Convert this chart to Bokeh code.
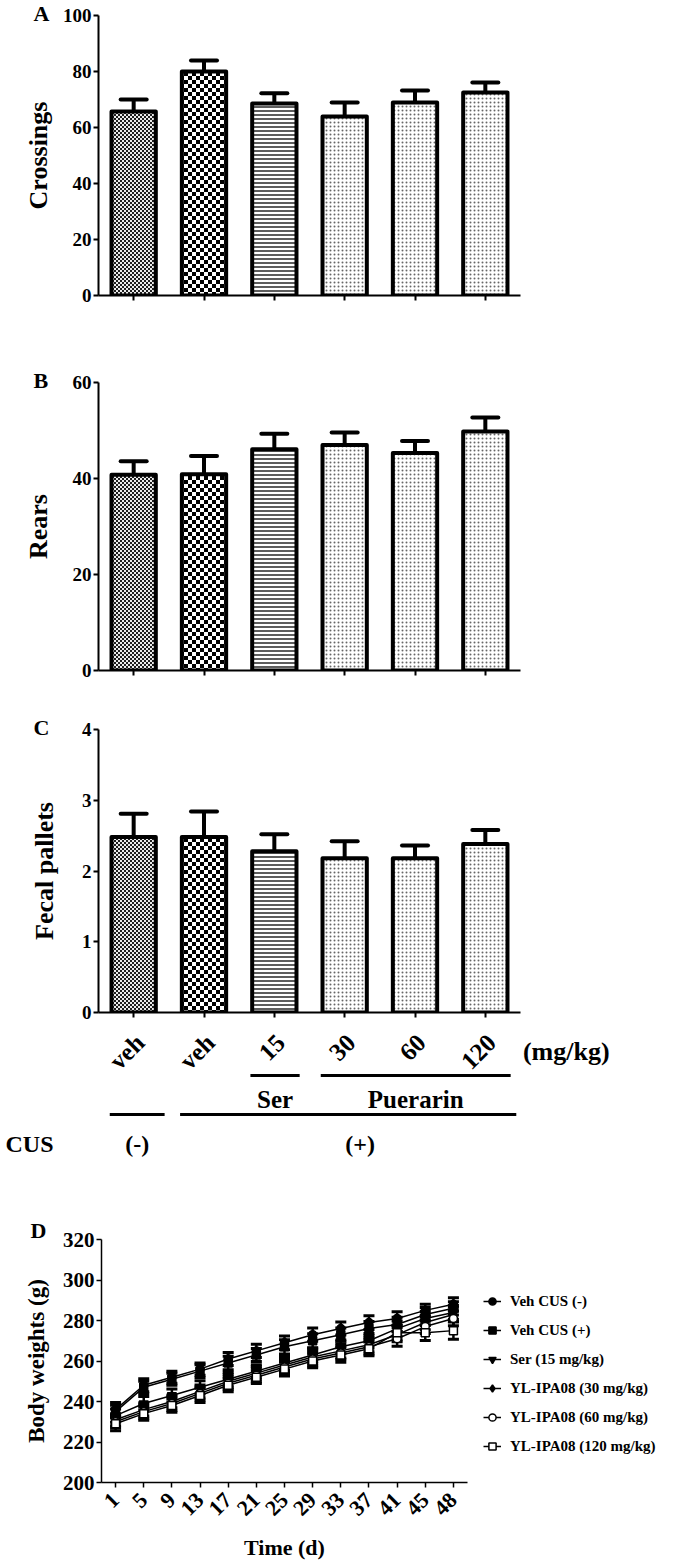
import math
import zlib
import struct
import base64
from bokeh.plotting import figure
from bokeh.models import (FactorRange, Range1d, ColumnDataSource, Whisker, TeeHead,
                          FixedTicker, Legend, LegendItem, ImageURLTexture)
from bokeh.layouts import column, row
from bokeh.core.properties import value
from bokeh.embed import file_html
from bokeh.resources import INLINE

FONT = "Liberation Serif"

# ---------------- data: bar panels ----------------
groups = ["veh (-)", "veh (+)", "Ser 15", "Puerarin 30", "Puerarin 60", "Puerarin 120"]
dose_labels = ["veh", "veh", "15", "30", "60", "120"]
crossings = [65.7, 80.0, 68.6, 63.9, 68.9, 72.5]
crossings_sem = [4.3, 3.9, 3.6, 5.0, 4.3, 3.6]
rears = [40.8, 40.9, 46.1, 47.0, 45.3, 49.8]
rears_sem = [2.8, 3.8, 3.2, 2.6, 2.5, 2.9]
fecal = [2.48, 2.48, 2.28, 2.18, 2.18, 2.38]
fecal_sem = [0.33, 0.36, 0.24, 0.24, 0.18, 0.20]

drug_groups = [("Ser", [2]), ("Puerarin", [3, 4, 5])]
cus_groups = [("(-)", [0]), ("(+)", [1, 2, 3, 4, 5])]

# ---------------- data: body weights ----------------
days = ["1", "5", "9", "13", "17", "21", "25", "29", "33", "37", "41", "45", "48"]
series_names = ["Veh CUS (-)", "Veh CUS (+)", "Ser (15 mg/kg)",
                "YL-IPA08 (30 mg/kg)", "YL-IPA08 (60 mg/kg)", "YL-IPA08 (120 mg/kg)"]
bw_veh_neg = [236, 248, 252, 256, 261, 265, 269, 273, 276, 279, 281, 285, 288]
bw_veh_pos = [235, 247, 251, 255, 259, 263, 267, 270, 273, 276, 278, 283, 286]
bw_ser15 = [233, 239, 243, 247, 251, 255, 259, 263, 267, 270, 276, 281, 284]
bw_yl30 = [231, 236, 240, 245, 250, 254, 258, 262, 265, 268, 273, 279, 283]
bw_yl60 = [230, 235, 239, 244, 249, 253, 257, 261, 264, 267, 271, 277, 281]
bw_yl120 = [229, 234, 238, 243, 248, 252, 256, 260, 263, 266, 274, 274, 275]
sem_veh_neg = [3.5, 3.2, 3.0, 3.0, 3.2, 3.3, 3.4, 3.3, 3.2, 3.4, 3.3, 3.0, 3.2]
sem_veh_pos = [3.2, 3.0, 3.0, 3.1, 3.3, 3.2, 3.5, 3.4, 3.3, 3.5, 3.6, 3.4, 3.3]
sem_ser15 = [3.3, 3.5, 3.2, 3.3, 3.4, 3.2, 3.5, 3.3, 3.4, 3.6, 3.8, 3.5, 3.4]
sem_yl30 = [3.0, 3.2, 3.1, 3.2, 3.3, 3.3, 3.2, 3.4, 3.5, 3.4, 3.5, 3.6, 3.5]
sem_yl60 = [3.1, 3.3, 3.4, 3.2, 3.1, 3.4, 3.3, 3.5, 3.3, 3.5, 3.7, 3.4, 3.6]
sem_yl120 = [3.4, 3.2, 3.3, 3.5, 3.2, 3.1, 3.4, 3.3, 3.6, 3.4, 3.5, 3.9, 4.2]


# ---------------- styles ----------------
def checker_png(cell, dark=0, light=255):
    """Data URL of a grayscale PNG tile holding a 2x2 checkerboard of `cell`-px squares."""
    n = 2 * cell
    rows = []
    for yy in range(n):
        rows.append(b"\x00" + bytes(dark if ((xx // cell) + (yy // cell)) % 2 == 0 else light
                                    for xx in range(n)))
    raw = b"".join(rows)

    def chunk(tag, data):
        return (struct.pack(">I", len(data)) + tag + data +
                struct.pack(">I", zlib.crc32(tag + data) & 0xffffffff))

    png = (b"\x89PNG\r\n\x1a\n" +
           chunk(b"IHDR", struct.pack(">IIBBBBB", n, n, 8, 0, 0, 0, 0)) +
           chunk(b"IDAT", zlib.compress(raw)) + chunk(b"IEND", b""))
    return "data:image/png;base64," + base64.b64encode(png).decode()


hatch_textures = {"fine_checker": ImageURLTexture(url=checker_png(2, dark=30, light=235)),
                  "coarse_checker": ImageURLTexture(url=checker_png(4))}
hatch_patterns = ["fine_checker", "coarse_checker", "horizontal_line", "dot", "dot", "dot"]
hatch_scales = [2, 8, 4, 4, 4, 4]
hatch_colors = ["#111111", "#000000", "#333333", "#666666", "#666666", "#666666"]
hatch_weights = [1, 1, 1.6, 1, 1, 1]
markers = ["circle", "square", "inverted_triangle", "diamond", "circle", "square"]
marker_fills = ["black", "black", "black", "black", "white", "white"]
marker_sizes = [8, 8, 9, 11, 8, 8]

W = 675
BAR_LEFT = 98
BAR_RIGHT = 155


def style_axis(ax, lw=2):
    ax.axis_line_width = lw
    ax.axis_line_color = "black"
    ax.major_tick_line_width = lw
    ax.major_tick_line_color = "black"
    ax.major_tick_in = 0
    ax.major_tick_out = 5
    ax.minor_tick_line_color = None
    ax.major_label_text_font = FONT
    ax.major_label_text_font_style = "bold"
    ax.major_label_text_color = "black"
    ax.axis_label_text_font = FONT
    ax.axis_label_text_font_style = "bold"
    ax.axis_label_text_color = "black"


def style_letter(p, offset, standoff):
    p.title.align = "left"
    p.title.offset = offset
    p.title.standoff = standoff
    p.title.text_font = FONT
    p.title.text_font_style = "bold"
    p.title.text_font_size = "22px"
    p.title.text_color = "black"


def bar_panel(vals, sems, ylabel, ymax, ticks, letter, height, top, bottom, als):
    p = figure(width=W, height=height, x_range=FactorRange(factors=groups),
               y_range=Range1d(0, ymax), output_backend="svg", toolbar_location=None,
               title=letter, frame_align=False,
               min_border_left=BAR_LEFT, min_border_right=BAR_RIGHT,
               min_border_top=top, min_border_bottom=bottom)
    style_letter(p, -65, -20)
    p.outline_line_color = None
    p.grid.visible = False
    src = ColumnDataSource(dict(x=groups, top=vals,
                                upper=[v + s for v, s in zip(vals, sems)]))
    w = Whisker(source=src, base="x", lower="top", upper="upper", dimension="height",
                line_width=4, line_color="black", lower_head=None,
                upper_head=TeeHead(size=26, line_width=4, line_color="black", line_cap="round"))
    p.add_layout(w)
    for i, g in enumerate(groups):
        pat = hatch_patterns[i]
        bsrc = ColumnDataSource(dict(x=[g], top=[vals[i]], hp=[pat]))
        extra = {pat: hatch_textures[pat]} if pat in hatch_textures else {}
        p.vbar(x="x", top="top", bottom=0, width=0.63, source=bsrc, fill_color="white",
               line_color="black", line_width=4, line_join="round",
               hatch_pattern="hp", hatch_scale=hatch_scales[i], hatch_color=hatch_colors[i],
               hatch_weight=hatch_weights[i], hatch_extra=extra)
    style_axis(p.xaxis[0])
    style_axis(p.yaxis[0])
    p.xaxis.major_label_text_color = None
    p.xaxis.major_label_text_font_size = "1px"
    p.xaxis.major_label_standoff = 0
    p.yaxis.ticker = FixedTicker(ticks=ticks)
    p.yaxis.major_label_text_font_size = "19px"
    p.yaxis.major_label_standoff = 2
    p.yaxis.axis_label = ylabel
    p.yaxis.axis_label_text_font_size = "26px"
    p.yaxis.axis_label_standoff = als
    return p


pA = bar_panel(crossings, crossings_sem, "Crossings", 100, [0, 20, 40, 60, 80, 100], "A",
               320, 15, 25, 7)
pB = bar_panel(rears, rears_sem, "Rears", 60, [0, 20, 40, 60], "B",
               366, 62, 16, 17)
pC = bar_panel(fecal, fecal_sem, "Fecal pallets", 4, [0, 1, 2, 3, 4], "C",
               338, 43, 12, 20)

# ---------------- annotation strip under panel C ----------------
unit = (W - BAR_LEFT - BAR_RIGHT) / len(groups)
AH = 138
ann = figure(width=W, height=AH, x_range=Range1d(-BAR_LEFT / unit, (W - BAR_LEFT) / unit),
             y_range=Range1d(AH, 0), output_backend="svg", toolbar_location=None,
             x_axis_type=None, y_axis_type=None, frame_align=False, min_border=0,
             min_border_left=0, min_border_right=0, min_border_top=0, min_border_bottom=0)
ann.outline_line_color = None
ann.grid.visible = False

txt = dict(text_font=value(FONT), text_font_style="bold", text_color="black")
centers = [i + 0.5 for i in range(len(groups))]
ann.text(x=[c + 0.09 for c in centers], y=[14] * len(groups), text=dose_labels,
         angle=math.pi / 4, text_align="right", text_baseline="middle",
         text_font_size="25px", **txt)
ann.text(x=[centers[-1] + 1.15], y=[27], text=["(mg/kg)"], text_align="center",
         text_baseline="middle", text_font_size="26px", **txt)

for name, idx in drug_groups:
    x0 = min(idx) + 0.5 - 0.34
    x1 = max(idx) + 0.5 + 0.36
    ann.segment(x0=[x0], y0=[51], x1=[x1], y1=[51], line_width=3, line_color="black")
    ann.text(x=[(x0 + x1) / 2], y=[75], text=[name], text_align="center",
             text_baseline="middle", text_font_size="25px", **txt)

cus_text_shift = [0.0, 0.17]
for (name, idx), sh in zip(cus_groups, cus_text_shift):
    x0 = min(idx) + 0.5 - 0.34
    x1 = max(idx) + 0.5 + 0.44
    ann.segment(x0=[x0], y0=[90], x1=[x1], y1=[90], line_width=3, line_color="black")
    ann.text(x=[(x0 + x1) / 2 + sh], y=[119], text=[name], text_align="center",
             text_baseline="middle", text_font_size="24px", **txt)
ann.text(x=[-BAR_LEFT / unit + 5 / unit], y=[119], text=["CUS"], text_align="left",
         text_baseline="middle", text_font_size="24px", **txt)

# ---------------- panel D ----------------
DH = 402
DW = 470
D_TOP, D_BOTTOM, D_LEFT, D_RIGHT = 77, 82, 101, 3
pD = figure(width=DW, height=DH, x_range=FactorRange(factors=days), y_range=Range1d(200, 320),
            output_backend="svg", toolbar_location=None, title="D", frame_align=False,
            min_border_left=D_LEFT, min_border_right=D_RIGHT,
            min_border_top=D_TOP, min_border_bottom=D_BOTTOM)
style_letter(pD, -71, -6)
pD.outline_line_color = None
pD.grid.visible = False

# legend lives in its own small figure to the right of panel D
LW = W - DW
pL = figure(width=LW, height=DH, x_range=Range1d(-2, -1), y_range=Range1d(0, 1),
            output_backend="svg", toolbar_location=None, x_axis_type=None, y_axis_type=None,
            frame_align=False, min_border=0, min_border_left=0, min_border_right=0,
            min_border_top=0, min_border_bottom=0)
pL.outline_line_color = None
pL.grid.visible = False

all_series = [bw_veh_neg, bw_veh_pos, bw_ser15, bw_yl30, bw_yl60, bw_yl120]
all_sems = [sem_veh_neg, sem_veh_pos, sem_ser15, sem_yl30, sem_yl60, sem_yl120]
items = []
for k, (name, vals, sems, mk, fc, ms) in enumerate(zip(series_names, all_series, all_sems,
                                                       markers, marker_fills, marker_sizes)):
    src = ColumnDataSource(dict(x=days, y=vals,
                                lo=[v - s for v, s in zip(vals, sems)],
                                hi=[v + s for v, s in zip(vals, sems)]))
    pD.add_layout(Whisker(source=src, base="x", lower="lo", upper="hi", dimension="height",
                          line_width=2.5, line_color="black",
                          upper_head=TeeHead(size=11, line_width=3, line_color="black"),
                          lower_head=TeeHead(size=11, line_width=3, line_color="black")))
    pD.line(x="x", y="y", source=src, line_color="black", line_width=1.5)
    pD.scatter(x="x", y="y", source=src, marker=mk, size=ms, fill_color=fc,
               line_color="black", line_width=1.5)
    # legend key glyphs (same styling; their data sits outside the legend figure's view)
    lsrc = ColumnDataSource(dict(x=[float(i) for i in range(len(vals))], y=vals))
    rl = pL.line(x="x", y="y", source=lsrc, line_color="black", line_width=1.5)
    rs = pL.scatter(x="x", y="y", source=lsrc, marker=mk, size=ms, fill_color=fc,
                    line_color="black", line_width=1.5)
    items.append(LegendItem(label=name, renderers=[rl, rs]))

legend = Legend(items=items, location=(13, 108), orientation="vertical",
                label_text_font=FONT, label_text_font_style="bold", label_text_font_size="15px",
                label_text_color="black", border_line_color=None, background_fill_alpha=0,
                padding=0, margin=0, spacing=9, glyph_height=20, glyph_width=18,
                label_height=20, label_standoff=9)
pL.add_layout(legend)

style_axis(pD.xaxis[0], 1.5)
style_axis(pD.yaxis[0], 1.5)
pD.yaxis.ticker = FixedTicker(ticks=[200, 220, 240, 260, 280, 300, 320])
pD.yaxis.major_label_text_font_size = "21px"
pD.yaxis.major_label_standoff = 2
pD.yaxis.axis_label = "Body weights (g)"
pD.yaxis.axis_label_text_font_size = "23px"
pD.yaxis.axis_label_standoff = 11
pD.xaxis.major_label_orientation = math.pi / 4
pD.xaxis.major_label_text_font_size = "22px"
pD.xaxis.major_label_standoff = 9
pD.xaxis.axis_label = "Time (d)"
pD.xaxis.axis_label_text_font_size = "22px"
pD.xaxis.axis_label_standoff = 10

layout = column(pA, pB, pC, ann, row(pD, pL, spacing=0), spacing=0)
open("out.html", "w").write(file_html(layout, INLINE))
